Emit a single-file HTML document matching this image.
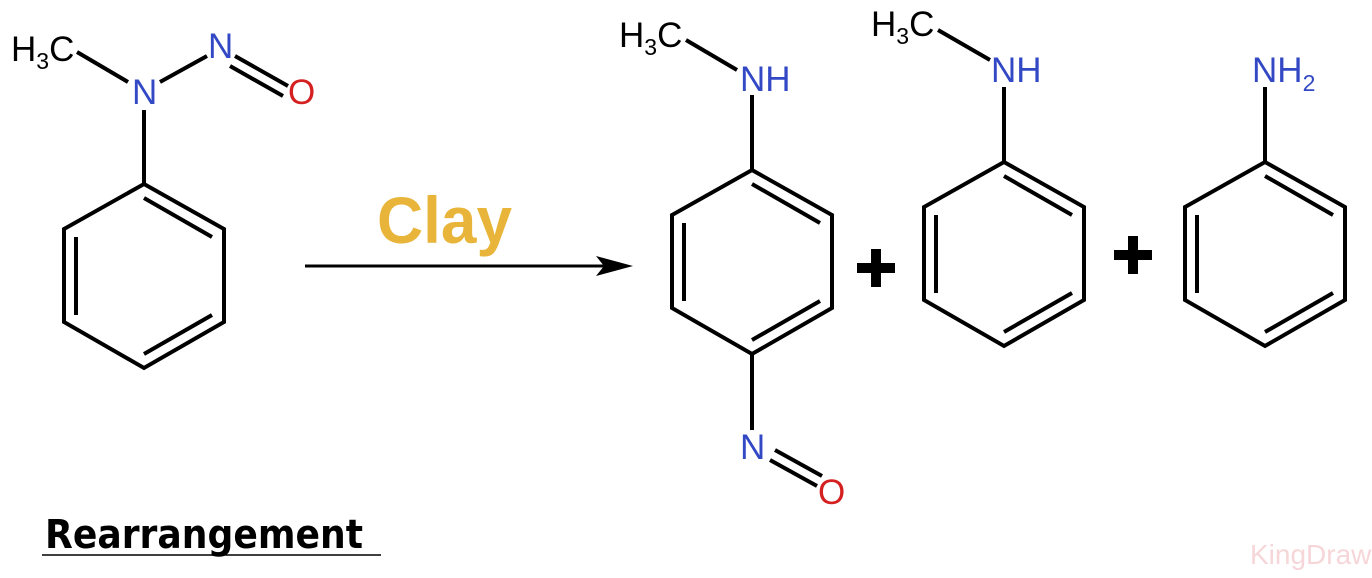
<!DOCTYPE html>
<html><head><meta charset="utf-8"><style>
html,body{margin:0;padding:0;background:#fff;}
svg{display:block;}
text{font-family:"Liberation Sans",sans-serif;}
</style></head><body>
<svg width="1372" height="578" viewBox="0 0 1372 578" xmlns="http://www.w3.org/2000/svg">
<defs>
<g id="ring" fill="none" stroke="#000" stroke-width="4" stroke-linejoin="miter">
<path d="M0,0 L80,45 L80,138 L0,184 L-80,138 L-80,45 Z"/>
<path d="M0,14 L68,53 M-68,53 L-68,131 M0,170 L68,131"/>
</g>
</defs>
<g stroke="#000" stroke-width="4" fill="none">
<line x1="144" y1="110" x2="144" y2="184"/>
<line x1="77" y1="52" x2="128" y2="82"/>
<line x1="160" y1="82" x2="207" y2="56"/>
<line x1="235" y1="56" x2="288" y2="86"/>
<line x1="230" y1="66" x2="283" y2="96"/>
<line x1="752" y1="95" x2="752" y2="170"/>
<line x1="686" y1="40" x2="737" y2="70"/>
<line x1="752" y1="353" x2="752" y2="430"/>
<line x1="775" y1="450" x2="822" y2="476"/>
<line x1="770" y1="460" x2="817" y2="486"/>
<line x1="1004" y1="87" x2="1004" y2="162"/>
<line x1="938" y1="30" x2="990" y2="60"/>
<line x1="1265" y1="87" x2="1265" y2="162"/>
<line x1="305" y1="266" x2="605" y2="266" stroke-width="3"/>
</g>
<polygon points="633,266 596,256 604,266 596,276" fill="#000"/>
<use href="#ring" x="144" y="184"/>
<use href="#ring" x="752" y="170"/>
<use href="#ring" x="1004" y="162"/>
<use href="#ring" x="1265" y="162"/>
<g font-size="35">
<text x="11" y="61" fill="#000">H<tspan font-size="23" dy="8">3</tspan><tspan dy="-8">C</tspan></text>
<text x="132" y="104" fill="#3348c4">N</text>
<text x="208" y="58" fill="#3348c4">N</text>
<text x="288" y="104" fill="#d42020">O</text>
<text x="619" y="47" fill="#000">H<tspan font-size="23" dy="8">3</tspan><tspan dy="-8">C</tspan></text>
<text x="740" y="91" fill="#3348c4">NH</text>
<text x="740" y="459" fill="#3348c4">N</text>
<text x="818" y="504" fill="#d42020">O</text>
<text x="871" y="36" fill="#000">H<tspan font-size="23" dy="8">3</tspan><tspan dy="-8">C</tspan></text>
<text x="991" y="82" fill="#3348c4">NH</text>
<text x="1252" y="82" fill="#3348c4">NH<tspan font-size="23" dy="9">2</tspan></text>
</g>
<g fill="#000">
<rect x="857" y="263" width="38" height="10"/>
<rect x="871" y="249" width="10" height="38"/>
<rect x="1114" y="250" width="38" height="10"/>
<rect x="1128" y="236" width="10" height="38"/>
</g>
<text x="377" y="243" font-size="66" font-weight="bold" fill="#e8b53a" textLength="135" lengthAdjust="spacingAndGlyphs">Clay</text>
<text x="45" y="548" font-size="40" font-weight="bold" fill="#000" textLength="318" lengthAdjust="spacingAndGlyphs" style="font-family:'DejaVu Sans',sans-serif">Rearrangement</text>
<line x1="42" y1="555" x2="381" y2="555" stroke="#000" stroke-width="1.5"/>
<text x="1250" y="564" font-size="28" fill="#f6d6d8">KingDraw</text>
</svg>
</body></html>
